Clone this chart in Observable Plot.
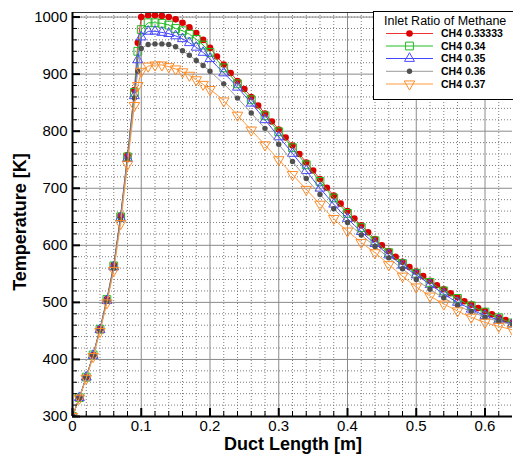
<!DOCTYPE html>
<html><head><meta charset="utf-8">
<script src="https://cdn.jsdelivr.net/npm/d3@7"></script>
<script src="https://cdn.jsdelivr.net/npm/@observablehq/plot@0.6"></script>
<style>
html,body{margin:0;padding:0;background:#fff;}
#chart{position:relative;width:513px;height:455px;overflow:hidden;font-family:"Liberation Sans",Arial,Helvetica,sans-serif;}
#chart svg{display:block;}
#overlay{position:absolute;left:0;top:0;pointer-events:none;}
</style></head>
<body><div id="chart"></div>
<script>
// ---- data ----
const xPos = [0,0.01,0.02,0.03,0.04,0.05,0.06,0.07,0.08,0.09,0.095,0.10,
  0.11,0.12,0.13,0.14,0.15,0.16,0.17,0.18,0.19,0.20,
  0.21,0.22,0.23,0.24,0.25,0.26,0.27,0.28,0.29,0.30,
  0.31,0.32,0.33,0.34,0.35,0.36,0.37,0.38,0.39,0.40,
  0.41,0.42,0.43,0.44,0.45,0.46,0.47,0.48,0.49,0.50,
  0.51,0.52,0.53,0.54,0.55,0.56,0.57,0.58,0.59,0.60,
  0.61,0.62,0.63,0.64];
const seriesNames = ["CH4 0.33333","CH4 0.34","CH4 0.35","CH4 0.36","CH4 0.37"];
const tRed = [300,333,369,408,454,506,566,652,758,872,955,1000,
  1003,1003,1002,1000,996,990,982,972,960,946,
  931,917,902,888,874,860,845,831,817,803,
  789,775,760,745,731,716,701,687,673,660,
  647,635,623,611,600,590,580,571,562,554,
  546,538,530,523,516,509,502,496,490,485,
  479,474,469,465];
const tGreen = [300,333,369,408,453,505,564,650,755,868,940,978,
  990,990,989,986,980,976,970,961,951,938,
  925,911,897,883,869,855,841,827,813,799,
  785,771,756,741,727,712,697,683,669,656,
  643,631,619,608,597,587,577,568,559,551,
  543,535,528,520,513,507,500,494,488,483,
  478,473,468,464];
const tBlue = [300,333,369,407,452,503,562,648,752,862,925,965,
  975,975,973,971,967,962,955,947,938,927,
  914,902,890,877,863,849,835,820,805,790,
  776,761,746,731,715,700,686,672,659,647,
  635,624,613,603,593,583,574,565,556,548,
  540,531,523,515,507,500,494,488,482,477,
  473,469,465,462];
const tGray = [300,333,369,407,451,502,560,645,750,858,905,945,
  952,953,953,952,948,941,933,924,915,905,
  894,883,871,858,845,832,818,805,791,777,
  762,747,732,717,703,689,676,664,652,640,
  629,618,608,598,588,578,568,559,549,540,
  531,523,515,508,501,495,489,484,479,474,
  470,467,464,461];
const tOrange = [300,332,367,405,449,499,556,638,742,845,880,905,
  914,916,916,913,909,904,898,890,882,873,
  864,853,841,828,815,802,789,776,763,750,
  737,724,711,698,685,672,659,647,635,625,
  615,605,596,587,577,566,556,546,536,527,
  519,511,504,497,491,485,479,474,469,465,
  461,458,455,452];

const xTicks = [0,0.1,0.2,0.3,0.4,0.5,0.6];
const xTickLabels = ["0","0.1","0.2","0.3","0.4","0.5","0.6"];
const yTicks = [300,400,500,600,700,800,900,1000];
const yTickLabels = ["300","400","500","600","700","800","900","1000"];
const xMinor = [0.02,0.04,0.06,0.08,0.12,0.14,0.16,0.18,0.22,0.24,0.26,0.28,0.32,0.34,0.36,0.38,0.42,0.44,0.46,0.48,0.52,0.54,0.56,0.58,0.62];
const yMinor = [320,340,360,380,420,440,460,480,520,540,560,580,620,640,660,680,720,740,760,780,820,840,860,880,920,940,960,980,1000];
const xDomain = [0, 0.64];
const yDomain = [300, 1008];
const xTitle = "Duct Length [m]";
const yTitle = "Temperature [K]";
const legendTitle = "Inlet Ratio of Methane";

// ---- layout / style ----
const W = 513, H = 455, mL = 72, mR = 1, mT = 12, mB = 39;
const frameW = W - mL - mR, frameH = H - mT - mB;

const triangleDown = {
  draw(context, size) {
    const s3 = Math.sqrt(3);
    const y = Math.sqrt(size / (s3 * 3));
    context.moveTo(0, 2 * y);
    context.lineTo(-s3 * y, -y);
    context.lineTo(s3 * y, -y);
    context.closePath();
  }
};
const styles = [
  {line: "#e33", symbol: d3.symbolCircle, fill: "#dd0000", stroke: "none", r: 3.3, every: 1},
  {line: "#22c022", symbol: d3.symbolSquare, fill: "none", stroke: "#22bb22", r: 4.4, every: 2},
  {line: "#4545ff", symbol: d3.symbolTriangle, fill: "none", stroke: "#4a4aff", r: 3.7, every: 2},
  {line: "#9a9a9a", symbol: d3.symbolCircle, fill: "#505050", stroke: "none", r: 2.7, every: 2},
  {line: "#ff9a3c", symbol: triangleDown, fill: "none", stroke: "#ff8c26", r: 3.9, every: 2}
];
const seriesVals = [tRed, tGreen, tBlue, tGray, tOrange];
const data = seriesVals.map((vals, i) => xPos.map((x, j) => ({x, t: vals[j], j, s: seriesNames[i]})));

const marks = [
  Plot.ruleX(xMinor, {stroke: "#7c7c7c", strokeDasharray: "1,2", strokeWidth: 1}),
  Plot.ruleY(yMinor, {stroke: "#7c7c7c", strokeDasharray: "1,2", strokeWidth: 1}),
  Plot.ruleX(xTicks.slice(1), {stroke: "#8a8a8a", strokeWidth: 1}),
  Plot.ruleY(yTicks.slice(1), {stroke: "#8a8a8a", strokeWidth: 1})
];
data.forEach((rows, i) => {
  const s = styles[i];
  marks.push(Plot.line(rows, {x: "x", y: "t", stroke: s.line, strokeWidth: 1, clip: true}));
  const pts = rows.filter(d => s.every === 1 || d.x <= 0.2001 || d.j % 2 === 1);
  marks.push(Plot.dot(pts, {x: "x", y: "t", symbol: s.symbol, r: s.r, fill: s.fill, stroke: s.stroke, strokeWidth: 1, clip: true}));
});
marks.push(
  Plot.tickY(yTicks, {insetRight: frameW - 8, stroke: "#000", strokeWidth: 2}),
  Plot.tickY(yMinor, {insetRight: frameW - 5, stroke: "#000", strokeWidth: 1}),
  Plot.tickX(xTicks, {insetTop: frameH - 8, stroke: "#000", strokeWidth: 2}),
  Plot.tickX(xMinor, {insetTop: frameH - 5, stroke: "#000", strokeWidth: 1}),
  Plot.ruleY([yDomain[1]], {stroke: "#333", strokeWidth: 1}),
  Plot.ruleX([xDomain[0]], {stroke: "#000", strokeWidth: 2}),
  Plot.ruleY([yDomain[0]], {stroke: "#000", strokeWidth: 2})
);

const chart = Plot.plot({
  width: W, height: H,
  marginLeft: mL, marginRight: mR, marginTop: mT, marginBottom: mB,
  style: {fontFamily: '"Liberation Sans", Arial, sans-serif', fontSize: "15px", background: "#fff", color: "#000"},
  x: {domain: xDomain, ticks: xTicks, tickFormat: d => xTickLabels[xTicks.indexOf(d)], tickSize: 0, tickPadding: 4, label: null},
  y: {domain: yDomain, ticks: yTicks, tickFormat: d => yTickLabels[yTicks.indexOf(d)], tickSize: 0, tickPadding: 5, label: null},
  marks
});
const host = document.getElementById("chart");
host.appendChild(chart);

// ---- overlay: axis titles and legend ----
const ov = d3.select(host).append("svg").attr("id", "overlay").attr("width", W).attr("height", H)
  .attr("font-family", '"Liberation Sans", Arial, sans-serif');
ov.append("text").attr("x", 293).attr("y", 450).attr("text-anchor", "middle")
  .attr("font-weight", "bold").attr("font-size", 18).attr("fill", "#000").text(xTitle);
ov.append("text").attr("transform", "translate(26,222) rotate(-90)").attr("text-anchor", "middle")
  .attr("font-weight", "bold").attr("font-size", 18).attr("fill", "#000").text(yTitle);

const lg = ov.append("g").attr("transform", "translate(373,11)");
lg.append("rect").attr("x", 0.5).attr("y", 0.5).attr("width", 150).attr("height", 88)
  .attr("fill", "#fff").attr("stroke", "#000").attr("stroke-width", 1);
lg.append("text").attr("x", 11).attr("y", 13.5).attr("font-size", 12.5).attr("fill", "#000").text(legendTitle);
const rowY = [22.5, 35, 47.5, 60.3, 73];
seriesNames.forEach((name, i) => {
  const s = styles[i], y = rowY[i];
  lg.append("line").attr("x1", 13).attr("x2", 60).attr("y1", y).attr("y2", y)
    .attr("stroke", s.line).attr("stroke-width", 1);
  lg.append("path").attr("transform", `translate(36.5,${y})`)
    .attr("d", d3.symbol().type(s.symbol).size(Math.PI * s.r * s.r)())
    .attr("fill", s.fill).attr("stroke", s.stroke).attr("stroke-width", 1);
  lg.append("text").attr("x", 68).attr("y", y).attr("dy", "0.35em").attr("font-size", 10.5)
    .attr("font-weight", "bold").attr("fill", "#000").text(name);
});
</script>
</body></html>
